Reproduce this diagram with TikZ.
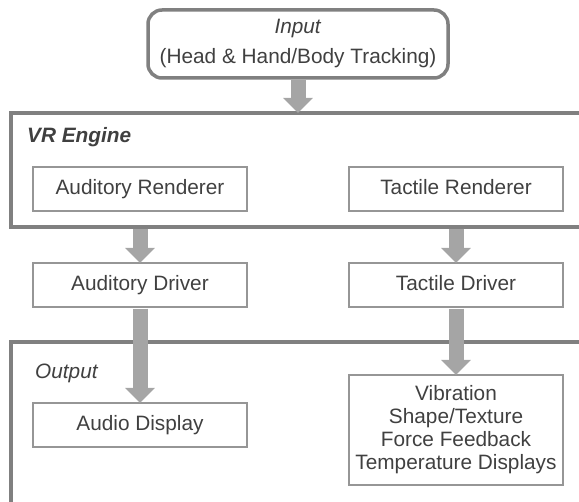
\documentclass[tikz,border=0pt]{standalone}
\usepackage{fontspec}
\setmainfont{Liberation Sans}
\usetikzlibrary{arrows.meta}

\definecolor{txt}{RGB}{64,64,64}
\definecolor{frame}{RGB}{128,128,128}
\definecolor{boxline}{RGB}{150,150,150}
\definecolor{flow}{RGB}{165,165,165}

\begin{document}
\begin{tikzpicture}[x=1pt,y=-1pt,
  every node/.style={font=\fontsize{20.8}{23}\selectfont, text=txt},
  unit/.style={draw=boxline, line width=1.5pt, minimum width=214pt,
    minimum height=44pt, inner sep=0pt, outer sep=0pt, align=center},
  oneline/.style={text height=15pt, text depth=4.4pt},
  group/.style={draw=frame, line width=3.5pt, inner sep=0pt, outer sep=0pt},
  flowarrow/.style={draw=flow, line width=15pt,
    -{Triangle[length=15pt,width=29pt]}, shorten <=1.75pt}
]
\useasboundingbox (0,0) rectangle (579,502);
\clip (0,0) rectangle (579,502);

% enclosing stages
\node[group, rounded corners=14pt, minimum width=300pt, minimum height=68pt,
  align=center] (inp) at (298,44)
  {\textit{Input}\\[7pt](Head \& Hand/Body Tracking)};
\node[group, anchor=north west, minimum width=600pt, minimum height=114pt]
  (vr) at (11,113) {};
\node[group, anchor=north west, minimum width=600pt, minimum height=200pt]
  (out) at (11,342) {};

% stage titles
\node[anchor=base west, inner sep=0pt] (vrlabel) at (27,143)
  {\textbf{\textit{VR Engine}}};
\node[anchor=base west, inner sep=0pt] (outlabel) at (35,379) {\textit{Output}};

% processing units
\node[unit, oneline] (arend) at (140,189) {Auditory Renderer};
\node[unit, oneline] (trend) at (456,189) {Tactile Renderer};
\node[unit, oneline] (adrv)  at (140,285) {Auditory Driver};
\node[unit, oneline] (tdrv)  at (456,285) {Tactile Driver};
\node[unit, oneline] (adisp) at (140,425) {Audio Display};
\node[unit, minimum height=110pt] (vib) at (456,430)
  {Vibration\\Shape/Texture\\Force Feedback\\Temperature Displays};

% data flow
\draw[flowarrow] (inp.south) -- (inp.south |- vr.north);
\draw[flowarrow] (arend.south |- vr.south) -- (adrv.north);
\draw[flowarrow] (trend.south |- vr.south) -- (tdrv.north);
\draw[flowarrow] (adrv.south) -- (adisp.north);
\draw[flowarrow] (tdrv.south) -- (vib.north);
\end{tikzpicture}
\end{document}
